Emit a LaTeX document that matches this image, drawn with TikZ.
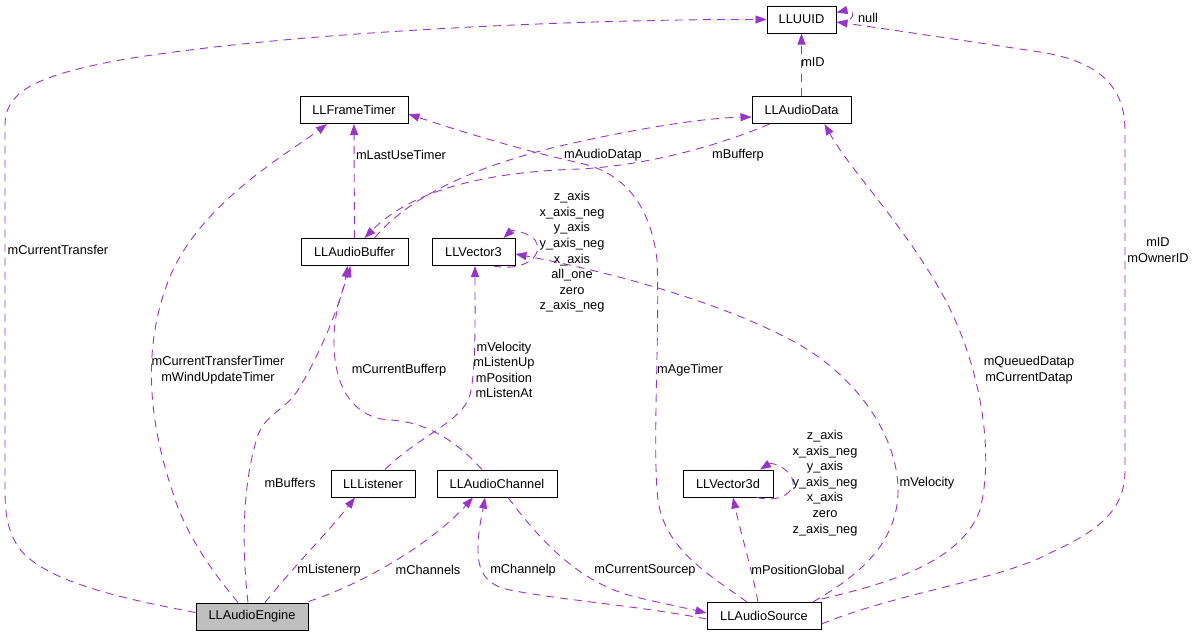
\documentclass[tikz,border=0pt]{standalone}
\usepackage{fontspec}
\setmainfont{Liberation Sans}
\usetikzlibrary{arrows.meta}
\definecolor{pcol}{HTML}{9A32CD}
\definecolor{gfill}{HTML}{BFBFBF}
\begin{document}
\begin{tikzpicture}[x=1pt,y=-1pt,
  cls/.style={draw=black, line width=1pt, fill=white, minimum height=27pt, inner sep=0pt, font=\fontsize{12.8}{15.6}\selectfont},
  rel/.style={draw=pcol, line width=0.9pt, dash pattern=on 8pt off 6pt, -{Triangle[length=11pt,width=8pt]}},
  lab/.style={font=\fontsize{12.8}{15.6}\selectfont, align=center, inner sep=0pt}]
\useasboundingbox (0,0) rectangle (1195,635);

% nodes
\node[cls, minimum width=69pt] (uuid) at (801.5,19.5) {LLUUID};
\node[cls, minimum width=108pt] (ftimer) at (354,110) {LLFrameTimer};
\node[cls, minimum width=99pt] (adata) at (801.5,110) {LLAudioData};
\node[cls, minimum width=107pt] (abuf) at (354.5,252) {LLAudioBuffer};
\node[cls, minimum width=83pt] (v3) at (473.5,252) {LLVector3};
\node[cls, minimum width=84pt] (listener) at (373,483.5) {LLListener};
\node[cls, minimum width=120pt] (chan) at (497,483.5) {LLAudioChannel};
\node[cls, minimum width=90pt] (v3d) at (728,483.5) {LLVector3d};
\node[cls, minimum width=112pt, fill=gfill] (eng) at (252,616.5) {LLAudioEngine};
\node[cls, minimum width=114pt] (src) at (764,616) {LLAudioSource};

% edges
% mCurrentTransfer
\draw[rel] ([yshift=4pt]eng.west) .. controls (130,600) and (40,582) .. (17,545)
  .. controls (8,530) and (5,515) .. (5,490) -- (5,125)
  .. controls (5,90) and (40,75) .. (120,60)
  .. controls (300,30) and (600,19) .. (uuid.west);
% mCurrentTransferTimer / mWindUpdateTimer
\draw[rel] ([xshift=-14pt]eng.north) .. controls (215,575) and (185,535) .. (172,490)
  .. controls (152,430) and (138,350) .. (172,272)
  .. controls (205,200) and (290,152) .. ([xshift=-27pt]ftimer.south);
% mBuffers
\draw[rel] ([xshift=-4pt]eng.north) .. controls (243,560) and (240,490) .. (258,435)
  .. controls (265,415) and (285,410) .. (298,390)
  .. controls (320,355) and (342,300) .. ([xshift=-7pt]abuf.south);
% mListenerp
\draw[rel] ([xshift=13pt]eng.north) .. controls (295,565) and (330,530) .. ([xshift=-18pt]listener.south);
% mChannels
\draw[rel] ([yshift=1pt]eng.north east) .. controls (360,585) and (430,545) .. ([xshift=-24pt]chan.south);
% mLastUseTimer
\draw[rel] (abuf.north) -- (ftimer.south);
% mAudioDatap
\draw[rel] ([xshift=20pt]abuf.north) .. controls (410,195) and (480,165) .. (560,146)
  .. controls (630,130) and (700,118) .. ([yshift=-7pt]adata.west);
% mBufferp
\draw[rel] ([xshift=-32pt]adata.south) .. controls (720,145) and (650,165) .. (580,169)
  .. controls (480,172) and (410,192) .. ([xshift=10pt]abuf.north);
% mID (LLAudioData)
\draw[rel] (adata.north) -- (uuid.south);
% null self loop
\draw[rel] ([yshift=-3pt]uuid.east) .. controls (856,24) and (856,8) .. ([yshift=7pt]uuid.east);
% LLVector3 self loop
\draw[rel] ([xshift=20pt]v3.south) .. controls (525,272) and (545,255) .. (535,240)
  .. controls (528,232) and (512,230) .. ([xshift=30pt]v3.north);
% LLVector3d self loop
\draw[rel] ([xshift=29pt]v3d.south) .. controls (780,503) and (795,492) .. (793,481)
  .. controls (790,468) and (772,462) .. ([xshift=32pt]v3d.north);
% mVelocity... (LLListener -> LLVector3)
\draw[rel] ([xshift=12pt]listener.north) .. controls (420,435) and (462,422) .. (470,395)
  .. controls (476,370) and (475,320) .. ([xshift=1.5pt]v3.south);
% mCurrentBufferp
\draw[rel] ([xshift=-15pt]chan.north) .. controls (460,445) and (430,422) .. (390,420)
  .. controls (355,418) and (335,390) .. (334,345)
  .. controls (333,310) and (345,285) .. ([xshift=-4pt]abuf.south);
% mChannelp
\draw[rel] ([yshift=-3pt]src.west) .. controls (640,606) and (560,600) .. (510,590)
  .. controls (485,585) and (478,570) .. (478,550)
  .. controls (478,530) and (482,515) .. ([xshift=-12pt]chan.south);
% mCurrentSourcep
\draw[rel] ([xshift=11pt]chan.south) .. controls (540,540) and (580,585) .. (640,598)
  .. controls (670,605) and (690,609) .. ([yshift=3pt]src.west);
% mAgeTimer
\draw[rel] ([xshift=-17pt]src.north) .. controls (710,575) and (665,550) .. (658,500)
  .. controls (652,450) and (660,330) .. (657,260)
  .. controls (650,200) and (620,172) .. (580,163)
  .. controls (520,150) and (450,128) .. ([yshift=-4pt]ftimer.east);
% mPositionGlobal
\draw[rel] ([xshift=-6pt]src.north) .. controls (752,570) and (740,530) .. ([xshift=5pt]v3d.south);
% mVelocity (LLAudioSource -> LLVector3)
\draw[rel] ([xshift=49pt]src.north) .. controls (850,580) and (895,550) .. (898,495)
  .. controls (900,440) and (860,380) .. (800,345)
  .. controls (720,300) and (600,270) .. ([yshift=-2pt]v3.east);
% mQueuedDatap / mCurrentDatap
\draw[rel] ([yshift=3pt]src.north east) .. controls (880,585) and (960,565) .. (980,510)
  .. controls (995,450) and (980,360) .. (940,290)
  .. controls (900,220) and (850,170) .. ([xshift=23pt]adata.south);
% mID / mOwnerID
\draw[rel] ([yshift=-8pt]src.east) .. controls (900,592) and (1000,580) .. (1050,553)
  .. controls (1100,530) and (1125,510) .. (1125,470) -- (1125,130)
  .. controls (1125,80) and (1090,60) .. (1040,52)
  .. controls (960,40) and (880,28) .. ([yshift=-2.5pt]uuid.east);

% labels
\node[lab] (l1) at (58,250) {mCurrentTransfer};
\node[lab] (l2) at (218,370) {mCurrentTransferTimer\\mWindUpdateTimer};
\node[lab] (l3) at (290,483) {mBuffers};
\node[lab] (l4) at (329,570) {mListenerp};
\node[lab] (l5) at (428,570) {mChannels};
\node[lab] (l6) at (401,155) {mLastUseTimer};
\node[lab] (l7) at (603,155) {mAudioDatap};
\node[lab] (l8) at (738,155) {mBufferp};
\node[lab] (l9) at (813,62) {mID};
\node[lab] (l10) at (868,18) {null};
\node[lab] (l11) at (572,252) {z\_axis\\x\_axis\_neg\\y\_axis\\y\_axis\_neg\\x\_axis\\all\_one\\zero\\z\_axis\_neg};
\node[lab] (l12) at (825,483) {z\_axis\\x\_axis\_neg\\y\_axis\\y\_axis\_neg\\x\_axis\\zero\\z\_axis\_neg};
\node[lab] (l13) at (504,370) {mVelocity\\mListenUp\\mPosition\\mListenAt};
\node[lab] (l14) at (399,370) {mCurrentBufferp};
\node[lab] (l15) at (523,570) {mChannelp};
\node[lab] (l16) at (645,570) {mCurrentSourcep};
\node[lab] (l17) at (690,370) {mAgeTimer};
\node[lab] (l18) at (798,570) {mPositionGlobal};
\node[lab] (l19) at (927,483) {mVelocity};
\node[lab] (l20) at (1029,370) {mQueuedDatap\\mCurrentDatap};
\node[lab] (l21) at (1158,250) {mID\\mOwnerID};
\end{tikzpicture}
\end{document}
